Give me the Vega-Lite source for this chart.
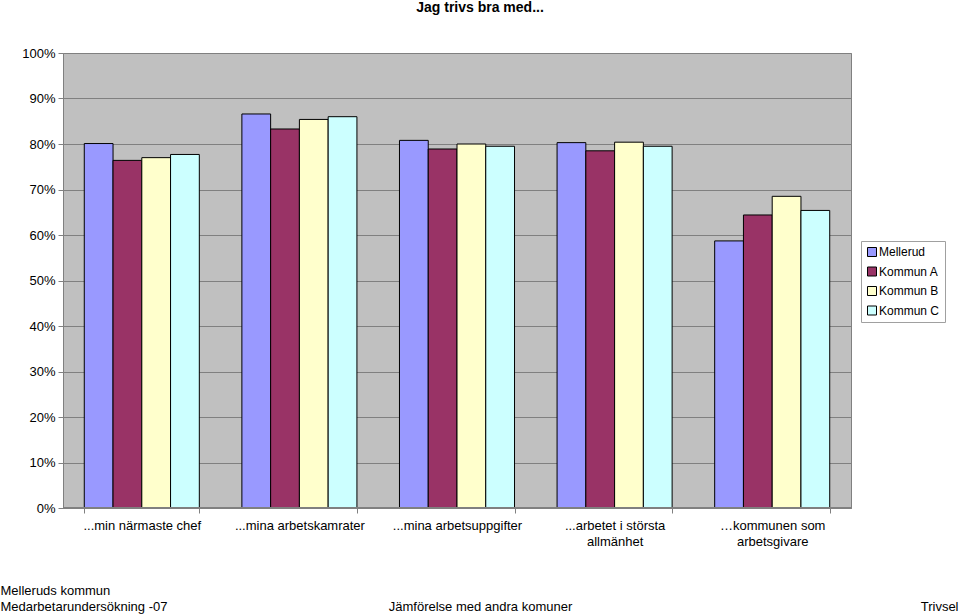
{
  "$schema": "https://vega.github.io/schema/vega-lite/v6.json",
  "width": 788,
  "height": 455,
  "autosize": {"type": "none"},
  "padding": {"left": 63, "top": 53, "right": 109, "bottom": 108},
  "background": "white",
  "title": {
    "text": "Jag trivs bra med...",
    "font": "Liberation Sans",
    "fontSize": 14,
    "fontWeight": "bold",
    "color": "black",
    "anchor": "middle",
    "dx": 23,
    "offset": 32
  },
  "config": {
    "view": {"fill": "#C0C0C0", "stroke": "#808080", "strokeWidth": 1},
    "axis": {
      "labelFont": "Liberation Sans",
      "labelFontSize": 13,
      "labelColor": "black",
      "titleFont": "Liberation Sans",
      "titleFontSize": 13,
      "titleFontWeight": "normal",
      "titleColor": "black",
      "tickColor": "#808080",
      "domainColor": "#808080"
    },
    "legend": {
      "labelFont": "Liberation Sans",
      "labelFontSize": 12,
      "labelColor": "black"
    }
  },
  "data": {
    "values": [
      {"q": "...min närmaste chef", "kommun": "Mellerud", "v": 80.1},
      {"q": "...min närmaste chef", "kommun": "Kommun A", "v": 76.4},
      {"q": "...min närmaste chef", "kommun": "Kommun B", "v": 77.0},
      {"q": "...min närmaste chef", "kommun": "Kommun C", "v": 77.7},
      {"q": "...mina arbetskamrater", "kommun": "Mellerud", "v": 86.6},
      {"q": "...mina arbetskamrater", "kommun": "Kommun A", "v": 83.3},
      {"q": "...mina arbetskamrater", "kommun": "Kommun B", "v": 85.4},
      {"q": "...mina arbetskamrater", "kommun": "Kommun C", "v": 86.0},
      {"q": "...mina arbetsuppgifter", "kommun": "Mellerud", "v": 80.8},
      {"q": "...mina arbetsuppgifter", "kommun": "Kommun A", "v": 78.9},
      {"q": "...mina arbetsuppgifter", "kommun": "Kommun B", "v": 80.0},
      {"q": "...mina arbetsuppgifter", "kommun": "Kommun C", "v": 79.5},
      {"q": "...arbetet i största|allmänhet", "kommun": "Mellerud", "v": 80.3},
      {"q": "...arbetet i största|allmänhet", "kommun": "Kommun A", "v": 78.5},
      {"q": "...arbetet i största|allmänhet", "kommun": "Kommun B", "v": 80.4},
      {"q": "...arbetet i största|allmänhet", "kommun": "Kommun C", "v": 79.5},
      {"q": "…kommunen som|arbetsgivare", "kommun": "Mellerud", "v": 58.7},
      {"q": "…kommunen som|arbetsgivare", "kommun": "Kommun A", "v": 64.4},
      {"q": "…kommunen som|arbetsgivare", "kommun": "Kommun B", "v": 68.5},
      {"q": "…kommunen som|arbetsgivare", "kommun": "Kommun C", "v": 65.4}
    ]
  },
  "layer": [
    {
      "mark": {"type": "bar", "stroke": "black", "strokeWidth": 1},
      "encoding": {
        "x": {
          "field": "q",
          "type": "nominal",
          "sort": null,
          "scale": {"paddingInner": 0.27, "paddingOuter": 0.135},
          "axis": {
            "labelAngle": 0,
            "labelExpr": "split(datum.label, '|')",
            "labelLineHeight": 16,
            "labelPadding": 6,
            "tickSize": 5,
            "tickBand": "extent",
            "title": "Jämförelse med andra komuner",
            "titleX": 417,
            "titleY": 92,
            "titleAlign": "center",
            "titleBaseline": "top"
          }
        },
        "xOffset": {
          "field": "kommun",
          "type": "nominal",
          "sort": ["Mellerud", "Kommun A", "Kommun B", "Kommun C"]
        },
        "y": {
          "field": "v",
          "type": "quantitative",
          "scale": {"domain": [0, 100], "nice": false},
          "axis": {
            "values": [0, 10, 20, 30, 40, 50, 60, 70, 80, 90, 100],
            "labelExpr": "datum.value + '%'",
            "tickSize": 5,
            "labelPadding": 3,
            "domain": false,
            "grid": true,
            "gridColor": "#808080",
            "gridWidth": 1,
            "title": ["Melleruds kommun", "Medarbetarundersökning -07"],
            "titleAngle": 0,
            "titleAlign": "left",
            "titleBaseline": "top",
            "titleX": -63,
            "titleY": 531,
            "titleLineHeight": 16
          }
        },
        "color": {
          "field": "kommun",
          "type": "nominal",
          "sort": ["Mellerud", "Kommun A", "Kommun B", "Kommun C"],
          "scale": {
            "domain": ["Mellerud", "Kommun A", "Kommun B", "Kommun C"],
            "range": ["#9999FF", "#993366", "#FFFFCC", "#CCFFFF"]
          },
          "legend": {
            "title": null,
            "orient": "none",
            "legendX": 798,
            "legendY": 188,
            "fillColor": "white",
            "strokeColor": "#A0A0A0",
            "padding": 5,
            "rowPadding": 5.5,
            "symbolType": "square",
            "symbolSize": 81,
            "symbolStrokeColor": "black",
            "symbolStrokeWidth": 1,
            "symbolOffset": 0,
            "labelOffset": 1
          }
        }
      }
    },
    {
      "mark": {"type": "rule", "color": "#808080"},
      "encoding": {
        "y": {
          "datum": 0,
          "type": "quantitative",
          "scale": {"domain": [0, 100], "nice": false},
          "axis": {
            "orient": "right",
            "labels": false,
            "ticks": false,
            "domain": false,
            "grid": false,
            "title": "Trivsel",
            "titleAngle": 0,
            "titleAlign": "right",
            "titleBaseline": "top",
            "titleX": 107,
            "titleY": 547
          }
        }
      }
    }
  ],
  "resolve": {"scale": {"y": "independent"}}
}
